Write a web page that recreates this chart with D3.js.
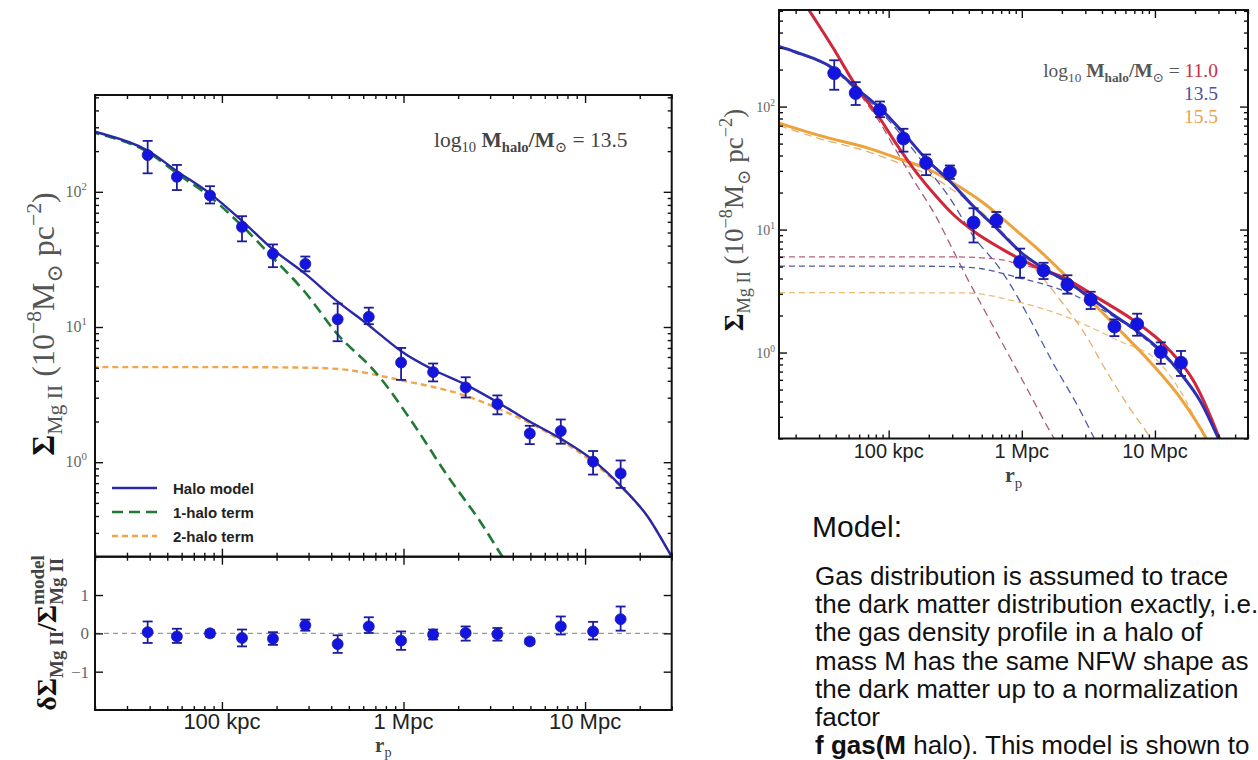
<!DOCTYPE html>
<html>
<head>
<meta charset="utf-8">
<script src="https://cdn.jsdelivr.net/npm/d3@7"></script>
<style>
  body { margin: 0; background: #fff; }
  svg { display: block; }
</style>
</head>
<body>
<svg id="fig" width="1258" height="760"></svg>
<script>
// ---- dati (r in kpc, Sigma in 1e-8 Msun pc^-2) ----
const radiusKpc = [39, 56.5, 86, 129, 191, 288, 434, 644, 970, 1456, 2200, 3290, 4960, 7350, 11070, 15700];
const sigmaObs  = [187, 129, 94, 55, 34.8, 29.3, 11.4, 11.9, 5.46, 4.64, 3.57, 2.69, 1.63, 1.70, 1.01, 0.826];
const sigmaHi   = [238, 158, 110, 66, 40.8, 33.2, 14.9, 13.9, 7.0, 5.37, 4.25, 3.12, 1.86, 2.07, 1.21, 1.03];
const sigmaLo   = [137, 103, 82, 43, 27.7, 25.8, 7.85, 10.5, 4.06, 3.96, 3.01, 2.26, 1.36, 1.37, 0.81, 0.645];

const residual   = [0.03, -0.08, 0.0, -0.12, -0.14, 0.21, -0.28, 0.18, -0.19, -0.03, 0.01, -0.02, -0.21, 0.18, 0.05, 0.37];
const residualHi = [0.31, 0.12, 0.08, 0.1, 0.03, 0.36, -0.05, 0.42, 0.05, 0.1, 0.18, 0.14, -0.14, 0.44, 0.3, 0.7];
const residualLo = [-0.25, -0.25, -0.08, -0.34, -0.3, 0.07, -0.51, 0.01, -0.43, -0.16, -0.19, -0.19, -0.28, -0.03, -0.16, 0.07];

// modello log10 Mhalo = 13.5
const halo135R  = [15, 20, 39, 57, 86, 129, 191, 288, 434, 644, 750, 990, 1450, 2200, 3290, 4950, 7300, 11000, 15700, 22000, 30000, 36000];
const halo135V  = [308, 278, 202, 141, 97, 61, 37.5, 24.7, 15.4, 10.3, 8.7, 6.5, 4.85, 3.75, 2.78, 2.0, 1.5, 1.04, 0.67, 0.4, 0.2, 0.13];
const one135R   = [15, 20, 39, 57, 86, 129, 191, 288, 434, 675, 750, 1140, 1740, 2660, 3600, 4000];
const one135V   = [303, 273, 197, 136, 92, 56, 32.5, 18, 8.8, 4.9, 4.15, 1.9, 0.8, 0.36, 0.19, 0.155];
const two135R   = [15, 100, 300, 500, 750, 1000, 1460, 2200, 3300, 4950, 7350, 11000, 15700, 22000, 30000, 36000];
const two135V   = [5.05, 5.05, 5.0, 4.8, 4.35, 4.0, 3.6, 3.1, 2.5, 1.95, 1.45, 1.0, 0.66, 0.4, 0.2, 0.13];

// modello log10 Mhalo = 11.0
const halo110R  = [24, 38.4, 57.4, 86, 115, 153, 229, 300, 440, 700, 1216, 2166, 3850, 6850, 12200, 19300, 29000, 33000];
const halo110V  = [660, 298, 145, 80, 49, 31.5, 18.5, 13.5, 9.6, 7.0, 5.1, 3.95, 2.72, 1.84, 1.11, 0.6, 0.23, 0.16];
const one110R   = [24, 38.4, 57.4, 86, 115, 153, 229, 300, 385, 550, 800, 1150, 1622, 1800];
const one110V   = [654, 292, 139, 74, 43, 25.5, 12.5, 7.0, 4.1, 2.0, 0.95, 0.46, 0.23, 0.19];
const two110R   = [15, 300, 600, 1000, 1600, 2500, 4000, 7000, 12000, 19000, 29000, 33000];
const two110V   = [6.0, 6.0, 5.8, 5.2, 4.4, 3.5, 2.6, 1.8, 1.1, 0.6, 0.23, 0.16];

// modello log10 Mhalo = 15.5
const halo155R  = [15, 30.5, 72, 121, 204, 323, 513, 684, 1023, 1365, 2880, 5130, 9100, 16200, 24300, 28000];
const halo155V  = [73.3, 58, 45.5, 37.5, 30.5, 23, 16.5, 12.8, 8.8, 6.7, 3.05, 1.62, 0.85, 0.4, 0.2, 0.15];
const one155R   = [15, 30, 72, 121, 204, 323, 513, 700, 1000, 1400, 1930, 3000, 4340, 6500, 9300, 10500];
const one155V   = [70, 55, 42.5, 34.5, 27.5, 20, 13.5, 9.8, 6.4, 4.2, 2.7, 1.4, 0.7, 0.35, 0.2, 0.16];
const two155R   = [15, 385, 912, 2166, 5130, 10870, 16200, 22000, 25000];
const two155V   = [3.07, 3.05, 2.6, 1.95, 1.27, 0.82, 0.45, 0.24, 0.19];

const xTickLabels = ["100 kpc", "1 Mpc", "10 Mpc"];
const xTickValues = [100, 1000, 10000];
const legendLabels = ["Halo model", "1-halo term", "2-halo term"];
const massLabels = ["11.0", "13.5", "15.5"];

const modelTitle = "Model:";
const modelLines = [
  "Gas distribution is assumed to trace",
  "the dark matter distribution exactly, i.e.",
  "the gas density profile in a halo of",
  "mass M has the same NFW shape as",
  "the dark matter up to a normalization",
  "factor"
];

// ---- impostazioni ----
const svg = d3.select("#fig");
const serif = "'Liberation Serif', 'DejaVu Serif', serif";
const sans = "'Liberation Sans', Arial, Helvetica, sans-serif";

const left = { x0: 95, x1: 671.7, y0: 95, y1: 556.7, r1: 710 };
const right = { x0: 779, x1: 1248, y0: 10, y1: 438.5 };

const xL = d3.scaleLog().domain([20, 30000]).range([left.x0, left.x1]);
const yL = d3.scaleLog().domain([0.2, 520]).range([left.y1, left.y0]);
const yRes = d3.scaleLinear().domain([-2, 2]).range([left.r1, left.y1]);
const xR = d3.scaleLog().domain([15, 50000]).range([right.x0, right.x1]);
const yR = d3.scaleLog().domain([0.2, 610]).range([right.y1, right.y0]);

/* tick maggiori e minori per una scala log */
function logTickValues(scale) {
  const [a, b] = scale.domain();
  const major = [], minor = [];
  for (let e = Math.floor(Math.log10(a)); e <= Math.ceil(Math.log10(b)); e++) {
    for (let m = 1; m < 10; m++) {
      const v = m * Math.pow(10, e);
      if (v < a * 0.999 || v > b * 1.001) continue;
      (m === 1 ? major : minor).push(v);
    }
  }
  return { major, minor };
}

/* tick rivolti verso l'interno, come in matplotlib */
function inwardTicks(g, scale, orient, pos, major, minor) {
  const mk = { bottom: d3.axisBottom, top: d3.axisTop, left: d3.axisLeft, right: d3.axisRight }[orient];
  const tr = (orient === "bottom" || orient === "top") ? `translate(0,${pos})` : `translate(${pos},0)`;
  [[major, 8], [minor, 4]].forEach(([vals, len]) => {
    const a = g.append("g").attr("transform", tr)
      .call(mk(scale).tickValues(vals).tickSize(-len).tickFormat(""));
    a.select(".domain").remove();
    a.selectAll("line").attr("stroke", "#111").attr("stroke-width", 1.4);
  });
}

/* testo con pedici / apici */
function richText(sel, x, y, parts, opt) {
  const t = sel.append("text")
    .attr("x", x).attr("y", y)
    .attr("font-family", opt.family || serif)
    .attr("font-size", opt.size)
    .attr("fill", opt.fill || "#333")
    .attr("text-anchor", opt.anchor || "start");
  let shift = 0;
  parts.forEach(p => {
    const s = p.sup ? -0.42 * opt.size : p.sub ? 0.25 * opt.size : 0;
    const ts = t.append("tspan").text(p.t).attr("dy", s - shift);
    shift = s;
    if (p.sup || p.sub) ts.attr("font-size", opt.size * 0.68);
    if (p.bold) ts.attr("font-weight", "bold");
    if (p.fill) ts.attr("fill", p.fill);
    if (p.id) ts.attr("class", p.id);
  });
  return t;
}

function drawCurve(g, xs, ys, R, V, color, width, dash) {
  g.append("path")
    .datum(d3.zip(R, V))
    .attr("d", d3.line().x(d => xs(d[0])).y(d => ys(d[1])).curve(d3.curveMonotoneX))
    .attr("fill", "none")
    .attr("stroke", color)
    .attr("stroke-width", width)
    .attr("stroke-dasharray", dash || null);
}

function drawPoints(g, xs, ys, vals, hi, lo, rad) {
  const pts = g.append("g");
  radiusKpc.forEach((r, i) => {
    const cx = xs(r);
    pts.append("line").attr("x1", cx).attr("x2", cx).attr("y1", ys(hi[i])).attr("y2", ys(lo[i]))
      .attr("stroke", "#1c1c9c").attr("stroke-width", 1.8);
    [hi[i], lo[i]].forEach(v => {
      pts.append("line").attr("x1", cx - 5).attr("x2", cx + 5).attr("y1", ys(v)).attr("y2", ys(v))
        .attr("stroke", "#1c1c9c").attr("stroke-width", 1.8);
    });
    pts.append("circle").attr("cx", cx).attr("cy", ys(vals[i])).attr("r", rad)
      .attr("fill", "#1414e0").attr("stroke", "#1a1aa8").attr("stroke-width", 0.8);
  });
}

const defs = svg.append("defs");
defs.append("clipPath").attr("id", "clipL").append("rect")
  .attr("x", left.x0).attr("y", left.y0).attr("width", left.x1 - left.x0).attr("height", left.y1 - left.y0);
defs.append("clipPath").attr("id", "clipR").append("rect")
  .attr("x", right.x0).attr("y", right.y0).attr("width", right.x1 - right.x0).attr("height", right.y1 - right.y0);

/* ================= pannello sinistro ================= */
const gL = svg.append("g");
const curvesL = gL.append("g").attr("clip-path", "url(#clipL)");
drawCurve(curvesL, xL, yL, two135R, two135V, "#f2a54a", 2.4, "6,4");
drawCurve(curvesL, xL, yL, one135R, one135V, "#1f7a33", 2.6, "11,6");
drawCurve(curvesL, xL, yL, halo135R, halo135V, "#2828a8", 2.4);
drawPoints(gL, xL, yL, sigmaObs, sigmaHi, sigmaLo, 5.5);

// residui
gL.append("line").attr("x1", left.x0).attr("x2", left.x1).attr("y1", yRes(0)).attr("y2", yRes(0))
  .attr("stroke", "#999").attr("stroke-width", 1.3).attr("stroke-dasharray", "5,4");
drawPoints(gL, xL, yRes, residual, residualHi, residualLo, 5.5);

// cornici e tick
gL.append("rect").attr("x", left.x0).attr("y", left.y0).attr("width", left.x1 - left.x0).attr("height", left.y1 - left.y0)
  .attr("fill", "none").attr("stroke", "#111").attr("stroke-width", 2);
gL.append("rect").attr("x", left.x0).attr("y", left.y1).attr("width", left.x1 - left.x0).attr("height", left.r1 - left.y1)
  .attr("fill", "none").attr("stroke", "#111").attr("stroke-width", 2);

const txL = logTickValues(xL), tyL = logTickValues(yL);
inwardTicks(gL, xL, "top", left.y0, txL.major, txL.minor);
inwardTicks(gL, xL, "bottom", left.y1, txL.major, txL.minor);
inwardTicks(gL, xL, "top", left.y1, txL.major, txL.minor);
inwardTicks(gL, xL, "bottom", left.r1, txL.major, txL.minor);
inwardTicks(gL, yL, "left", left.x0, tyL.major, tyL.minor);
inwardTicks(gL, yL, "right", left.x1, tyL.major, tyL.minor);
inwardTicks(gL, yRes, "left", left.x0, [-1, 0, 1], []);
inwardTicks(gL, yRes, "right", left.x1, [-1, 0, 1], []);

tyL.major.forEach(v => {
  richText(gL, left.x0 - 8, yL(v) + 5, [{ t: "10" }, { t: String(Math.round(Math.log10(v))), sup: true }],
    { size: 16, fill: "#666", anchor: "end" });
});
[1, 0, -1].forEach(v => {
  gL.append("text").attr("x", left.x0 - 6).attr("y", yRes(v) + 6).attr("text-anchor", "end")
    .attr("font-family", serif).attr("font-size", 17).attr("fill", "#666")
    .text(v < 0 ? "\u2212" + Math.abs(v) : String(v));
});
xTickValues.forEach((v, i) => {
  gL.append("text").attr("x", xL(v)).attr("y", 729).attr("text-anchor", "middle")
    .attr("font-family", sans).attr("font-size", 22).attr("fill", "#222").text(xTickLabels[i]);
});
richText(gL, (left.x0 + left.x1) / 2, 752, [{ t: "r", bold: true }, { t: "p", sub: true }],
  { size: 21, fill: "#444", anchor: "middle" });

// etichette asse y
const ylabL = gL.append("g").attr("transform", `translate(54,324) rotate(-90)`);
richText(ylabL, 0, 0, [
  { t: "\u03a3", bold: true, fill: "#111" }, { t: "Mg II", sub: true },
  { t: " (10" }, { t: "\u22128", sup: true }, { t: "M" }, { t: "\u2299", sub: true },
  { t: " pc" }, { t: "\u22122", sup: true }, { t: ")" }
], { size: 32, fill: "#555", anchor: "middle" });

const ylabRes = gL.append("g").attr("transform", `translate(56,633) rotate(-90)`);
const resText = richText(ylabRes, 0, 0, [
  { t: "\u03b4\u03a3", bold: true, fill: "#111" }, { t: "Mg II", sub: true, bold: true },
  { t: "/\u03a3", bold: true, fill: "#111" }, { t: "model", sup: true, bold: true, id: "supm" },
  { t: "Mg II", sub: true, bold: true, id: "subm" }
], { size: 28, fill: "#444", anchor: "middle" });
// impila "model" sopra "Mg II"
const wModel = resText.select(".supm").node().getComputedTextLength();
resText.select(".subm").attr("dx", -wModel);

// legenda
const legStyles = [["#2828a8", 2.4, null], ["#1f7a33", 2.6, "11,6"], ["#f2a54a", 2.4, "6,4"]];
legendLabels.forEach((lab, i) => {
  const y = 488 + i * 24;
  gL.append("line").attr("x1", 112).attr("x2", 157).attr("y1", y).attr("y2", y)
    .attr("stroke", legStyles[i][0]).attr("stroke-width", legStyles[i][1])
    .attr("stroke-dasharray", legStyles[i][2]);
  gL.append("text").attr("x", 173).attr("y", y + 5.5).attr("font-family", sans)
    .attr("font-weight", "bold").attr("font-size", 15).attr("fill", "#222").text(lab);
});

// annotazione massa
richText(gL, 434, 147, [
  { t: "log" }, { t: "10", sub: true }, { t: " M", bold: true }, { t: "halo", sub: true, bold: true },
  { t: "/M", bold: true }, { t: "\u2299", sub: true }, { t: " = 13.5" }
], { size: 21.5, fill: "#444" });

/* ================= pannello destro ================= */
const gR = svg.append("g");
const curvesR = gR.append("g").attr("clip-path", "url(#clipR)");
drawCurve(curvesR, xR, yR, two155R, two155V, "#e9bd78", 1.3, "6,4");
drawCurve(curvesR, xR, yR, one155R, one155V, "#e2b070", 1.3, "8,5");
drawCurve(curvesR, xR, yR, two110R, two110V, "#b8607a", 1.3, "6,4");
drawCurve(curvesR, xR, yR, one110R, one110V, "#a85a78", 1.3, "8,5");
drawCurve(curvesR, xR, yR, two135R, two135V, "#4d5aa6", 1.3, "6,4");
drawCurve(curvesR, xR, yR, one135R, one135V, "#4d5aa6", 1.3, "8,5");
drawCurve(curvesR, xR, yR, halo155R, halo155V, "#eea23c", 3);
drawCurve(curvesR, xR, yR, halo110R, halo110V, "#d0283a", 3);
drawCurve(curvesR, xR, yR, halo135R, halo135V, "#2f2fb4", 3);
drawPoints(gR, xR, yR, sigmaObs, sigmaHi, sigmaLo, 6.5);

gR.append("rect").attr("x", right.x0).attr("y", right.y0).attr("width", right.x1 - right.x0).attr("height", right.y1 - right.y0)
  .attr("fill", "none").attr("stroke", "#111").attr("stroke-width", 2);
const txR = logTickValues(xR), tyR = logTickValues(yR);
inwardTicks(gR, xR, "top", right.y0, txR.major, txR.minor);
inwardTicks(gR, xR, "bottom", right.y1, txR.major, txR.minor);
inwardTicks(gR, yR, "left", right.x0, tyR.major, tyR.minor);
inwardTicks(gR, yR, "right", right.x1, tyR.major, tyR.minor);

tyR.major.forEach(v => {
  richText(gR, right.x0 - 4, yR(v) + 5, [{ t: "10" }, { t: String(Math.round(Math.log10(v))), sup: true }],
    { size: 14, fill: "#666", anchor: "end" });
});
xTickValues.forEach((v, i) => {
  gR.append("text").attr("x", xR(v)).attr("y", 458).attr("text-anchor", "middle")
    .attr("font-family", sans).attr("font-size", 20).attr("fill", "#222").text(xTickLabels[i]);
});
richText(gR, (right.x0 + right.x1) / 2, 482, [{ t: "r", bold: true }, { t: "p", sub: true }],
  { size: 22, fill: "#444", anchor: "middle" });

const ylabR = gR.append("g").attr("transform", `translate(743,220) rotate(-90)`);
richText(ylabR, 0, 0, [
  { t: "\u03a3", bold: true, fill: "#111" }, { t: "Mg II", sub: true },
  { t: " (10" }, { t: "\u22128", sup: true }, { t: "M" }, { t: "\u2299", sub: true },
  { t: " pc" }, { t: "\u22122", sup: true }, { t: ")" }
], { size: 27, fill: "#555", anchor: "middle" });

const massColors = ["#c83040", "#505098", "#eaa448"];
richText(gR, 1218, 77, [
  { t: "log" }, { t: "10", sub: true }, { t: " M", bold: true }, { t: "halo", sub: true, bold: true },
  { t: "/M", bold: true }, { t: "\u2299", sub: true }, { t: " = " }, { t: massLabels[0], fill: massColors[0] }
], { size: 19.5, fill: "#555", anchor: "end" });
massLabels.slice(1).forEach((m, i) => {
  gR.append("text").attr("x", 1218).attr("y", 100 + i * 23).attr("text-anchor", "end")
    .attr("font-family", serif).attr("font-size", 19.5).attr("fill", massColors[i + 1]).text(m);
});

/* ================= testo a destra ================= */
svg.append("text").attr("x", 812).attr("y", 537).attr("font-family", sans).attr("font-size", 30)
  .attr("fill", "#111").text(modelTitle);
modelLines.forEach((line, i) => {
  svg.append("text").attr("x", 815).attr("y", 585 + i * 28.2).attr("font-family", sans)
    .attr("font-size", 26).attr("fill", "#111").text(line);
});
const last = svg.append("text").attr("x", 815).attr("y", 585 + 6 * 28.2).attr("font-family", sans)
  .attr("font-size", 26).attr("fill", "#111");
last.append("tspan").attr("font-weight", "bold").text("f gas(M");
last.append("tspan").text(" halo). This model is shown to");
</script>
</body>
</html>
